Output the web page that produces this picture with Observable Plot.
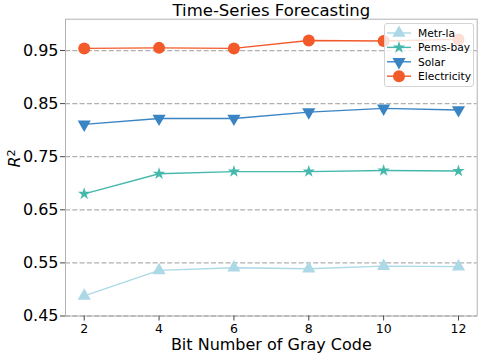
<!DOCTYPE html>
<html><head><meta charset="utf-8">
<script src="https://cdn.jsdelivr.net/npm/d3@7"></script>
<script src="https://cdn.jsdelivr.net/npm/@observablehq/plot@0.6"></script>
<style>
body{margin:0;background:#fff}
#wrap{position:relative;width:479px;height:354px;font-family:"DejaVu Sans",sans-serif}
#legend{position:absolute;left:384px;top:23px;width:90px;height:64px;border:1px solid #d4d4d4;border-radius:3px;background:rgba(255,255,255,0.8);box-sizing:border-box}
</style>
</head><body><div id="wrap"></div>
<script>
const bits = [2, 4, 6, 8, 10, 12];
const seriesNames = ["Metr-la", "Pems-bay", "Solar", "Electricity"];
const metrLa = [0.488, 0.536, 0.541, 0.539, 0.544, 0.543];
const pemsBay = [0.680, 0.718, 0.722, 0.722, 0.724, 0.723];
const solar = [0.811, 0.822, 0.822, 0.834, 0.841, 0.838];
const electricity = [0.954, 0.955, 0.954, 0.969, 0.968, 0.971];
const yTicks = [0.45, 0.55, 0.65, 0.75, 0.85, 0.95];
const xTicks = [2, 4, 6, 8, 10, 12];
const colors = ["#add8e6", "#45b8ac", "#3a84c4", "#f25a2a"];
const symbols = ["triangle", "star", "triangle", "circle"];
const rotations = [0, 0, 180, 0];
const radii = [4.9, 3.9, 4.9, 6];
const title = "Time-Series Forecasting";
const xLabel = "Bit Number of Gray Code";
const yLabel = "R²";

const values = [metrLa, pemsBay, solar, electricity];
const data = seriesNames.flatMap((name, i) => bits.map((b, j) => ({series: name, bit: b, r2: values[i][j]})));

const seriesMarks = seriesNames.flatMap((name, i) => {
  const d = data.filter(v => v.series === name);
  return [
    Plot.line(d, {x: "bit", y: "r2", stroke: colors[i], strokeWidth: 1.4}),
    Plot.dot(d, {x: "bit", y: "r2", symbol: symbols[i], fill: colors[i], stroke: "none", r: radii[i], rotate: rotations[i]})
  ];
});

const chart = Plot.plot({
  width: 479, height: 354,
  marginLeft: 65, marginRight: 2.3, marginTop: 18.7, marginBottom: 38.5,
  style: {fontFamily: "DejaVu Sans", background: "white", color: "black", overflow: "visible"},
  x: {domain: [1.5, 12.5]},
  y: {domain: [0.45, 1.009]},
  marks: [
    Plot.ruleY(yTicks, {stroke: "#b0b0b0", strokeWidth: 1.3, strokeDasharray: "5,2.3"}),
    Plot.frame({stroke: "#b3b3b3", strokeWidth: 1}),
    Plot.axisY(yTicks, {tickSize: 5, tickPadding: 2, fontSize: 16, tickFormat: d => d.toFixed(2), label: null, stroke: "#444"}),
    Plot.axisX(xTicks, {tickSize: 5, tickPadding: 3, fontSize: 12.5, tickFormat: d => String(d), label: null, stroke: "#444"}),
    ...seriesMarks,
    Plot.text([title], {frameAnchor: "top", dy: -3.5, lineAnchor: "bottom", fontSize: 16.5}),
    Plot.text([xLabel], {frameAnchor: "bottom", dy: 33.5, lineAnchor: "bottom", fontSize: 16}),
    Plot.text([yLabel], {frameAnchor: "left", dx: -51, lineAnchor: "middle", rotate: -90, fontSize: 16})
  ]
});

const wrap = document.getElementById("wrap");
wrap.appendChild(chart);
chart.style.position = "absolute"; chart.style.left = "0"; chart.style.top = "0";

d3.select(chart).selectAll("text").filter(function(){ return this.textContent === yLabel; }).each(function(){
  const t = d3.select(this);
  t.text(null);
  t.append("tspan").attr("font-style", "italic").text("R");
  t.append("tspan").attr("dy", "-0.45em").attr("font-size", "0.7em").text("2");
});

// legend
const legend = document.createElement("div");
legend.id = "legend";
wrap.appendChild(legend);
const lsvg = d3.select(legend).append("svg").attr("width", 88).attr("height", 62).style("position","absolute").style("left","0").style("top","0");
const symMap = {triangle: d3.symbolTriangle, star: d3.symbolStar, circle: d3.symbolCircle};
seriesNames.forEach((name, i) => {
  const y = 9 + i * 14.4;
  const g = lsvg.append("g").attr("transform", `translate(0,${y})`);
  g.append("line").attr("x1", 2).attr("x2", 26).attr("y1", 0).attr("y2", 0).attr("stroke", colors[i]).attr("stroke-width", 1.4);
  g.append("path").attr("d", d3.symbol(symMap[symbols[i]], Math.PI * radii[i] * radii[i])())
    .attr("transform", `translate(14,0) rotate(${rotations[i]})`).attr("fill", colors[i]);
  g.append("text").attr("x", 33).attr("y", 0).attr("dy", "0.35em").attr("font-size", 10.7).attr("font-family", "DejaVu Sans").text(name);
});
</script>
</body></html>
